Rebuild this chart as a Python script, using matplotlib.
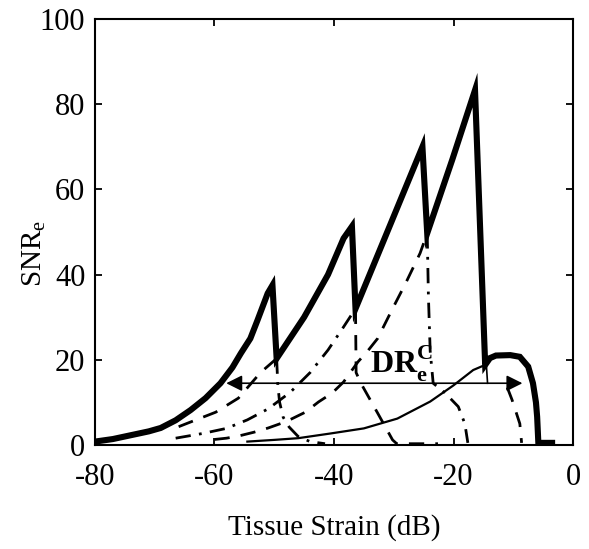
import numpy as np
import matplotlib
matplotlib.use('Agg')
import matplotlib.pyplot as plt

plt.rcParams['font.family'] = ['Liberation Serif', 'DejaVu Serif']
plt.rcParams['mathtext.fontset'] = 'custom'
plt.rcParams['mathtext.rm'] = 'Liberation Serif'
plt.rcParams['mathtext.bf'] = 'Liberation Serif:bold'
plt.rcParams['axes.unicode_minus'] = False

# upper envelope (thick solid)
env_x = [-80, -77, -74, -71, -69, -66.5, -64, -61.5, -59, -57, -55.6, -54, -52.8, -51.1, -50.3,
         -49.6, -45, -41, -38.4, -37.0,
         -36.4, -30.5, -25.2,
         -24.4, -20.2, -16.4,
         -14.7, -13.9, -12.9, -10.5, -8.9, -7.5, -6.7, -6.2, -6.0, -5.8, -3.5]
env_y = [0.8, 1.4, 2.3, 3.2, 4.0, 5.8, 8.2, 11, 14.5, 18.2, 21.5, 25, 29.3, 35.6, 37.5,
         20.3, 30, 40, 48.5, 51.3,
         32, 52, 70,
         49.7, 67, 83.3,
         18.8, 20.4, 21, 21.1, 20.7, 18.4, 14.5, 10, 6.6, 0.5, 0.5]

# broad curve (thin solid)
thin_x = [-54.5, -50, -46, -40.6, -35, -29.4, -23.9, -20, -16.7, -14.7]
thin_y = [0.8, 1.2, 1.6, 2.7, 3.9, 6.2, 10.2, 14, 17.6, 18.8]

# rising parts hidden under the envelope
rise2_x = [-66, -64, -59.8, -56, -52.3, -49.6]
rise2_y = [4.3, 5.4, 7.7, 11, 17, 20.3]
rise3_x = [-66.5, -62, -58, -54.5, -51, -47.3, -44, -41, -38.5, -36.4]
rise3_y = [1.6, 2.7, 3.9, 5.9, 8.5, 12.4, 17, 22.3, 27.5, 32]
rise4_x = [-60, -58, -56, -53.4, -51, -48, -44.8, -42.6, -40.3, -38.4, -36, -34.4, -32.7, -30.2, -28, -25.6, -24.4]
rise4_y = [1.3, 1.6, 2.1, 3.0, 4.0, 5.5, 7.7, 10.1, 12.2, 14.8, 19.5, 22, 25, 32, 38, 45, 49.7]

# falling parts after each drop
drop1_x = [-49.6, -49.4, -49.1, -48.5, -47.5, -46, -44, -41.5]
drop1_y = [20.3, 14, 10, 6.5, 4.2, 2, 0.8, 0.3]
drop2_x = [-36.4, -36.3, -35.5, -32.7, -30.2, -29.5, -22.6]
drop2_y = [32, 17, 14.5, 7.5, 1.2, 0.3, 0.3]
drop3_x = [-24.4, -24.2, -23.9, -23.4, -21.4, -19.2, -18.1, -17.6]
drop3_y = [49.7, 35, 22, 14.5, 12.2, 9, 5, 0.5]
drop4_x = [-14.5, -14.3]
drop4_y = [18.8, 14.5]
tail_x = [-11, -10.2, -8.9, -8.6]
tail_y = [13.5, 10.6, 5, 0.5]

dr_left, dr_right, dr_level = -58.5, -8.0, 14.5

fig = plt.figure(figsize=(5.89, 5.49), dpi=100)
ax = fig.add_axes([95/589, 1 - 445/549, (573 - 95)/589, (445 - 19)/549])

dash = (5.5, 4)
dashdot = (5.5, 3, 1, 3)
ax.plot(rise2_x, rise2_y, color='k', lw=2, dashes=dash)
ax.plot(rise3_x, rise3_y, color='k', lw=2, dashes=dashdot)
ax.plot(rise4_x, rise4_y, color='k', lw=2, dashes=dash)
ax.plot(drop1_x, drop1_y, color='k', lw=2, dashes=dashdot)
ax.plot(drop2_x, drop2_y, color='k', lw=2, dashes=dash)
ax.plot(drop3_x, drop3_y, color='k', lw=2, dashes=dashdot)
ax.plot(drop4_x, drop4_y, color='k', lw=1.2)
ax.plot(tail_x, tail_y, color='k', lw=2, dashes=dash)
ax.plot(thin_x, thin_y, color='k', lw=1.6)
ax.plot(env_x, env_y, color='k', lw=4.4, solid_joinstyle='miter')

ax.annotate('', xy=(dr_left, dr_level), xytext=(dr_right, dr_level),
            arrowprops=dict(arrowstyle='<|-|>', color='k', lw=1.2, mutation_scale=24))
ax.text(-34, 17, r'$\mathbf{DR}_{\mathbf{e}}^{\mathbf{C}}$', fontsize=23, ha='left', va='baseline')

ax.set_xlim(-80, 0)
ax.set_ylim(0, 100)
ax.set_xticks([-80, -60, -40, -20, 0])
ax.set_yticks([0, 20, 40, 60, 80, 100])
ax.tick_params(direction='in', length=5, width=1.3, labelsize=22, top=True, right=True, pad=7)
ax.tick_params(axis='x', pad=13)
for s in ax.spines.values():
    s.set_linewidth(1.5)

ax.set_xlabel('Tissue Strain (dB)', fontsize=21, labelpad=16)
ax.set_ylabel(r'SNR$_{\mathrm{e}}$', fontsize=21)
ax.yaxis.set_label_coords(-0.098, 0.45)

fig.savefig('out.png', dpi=100)
